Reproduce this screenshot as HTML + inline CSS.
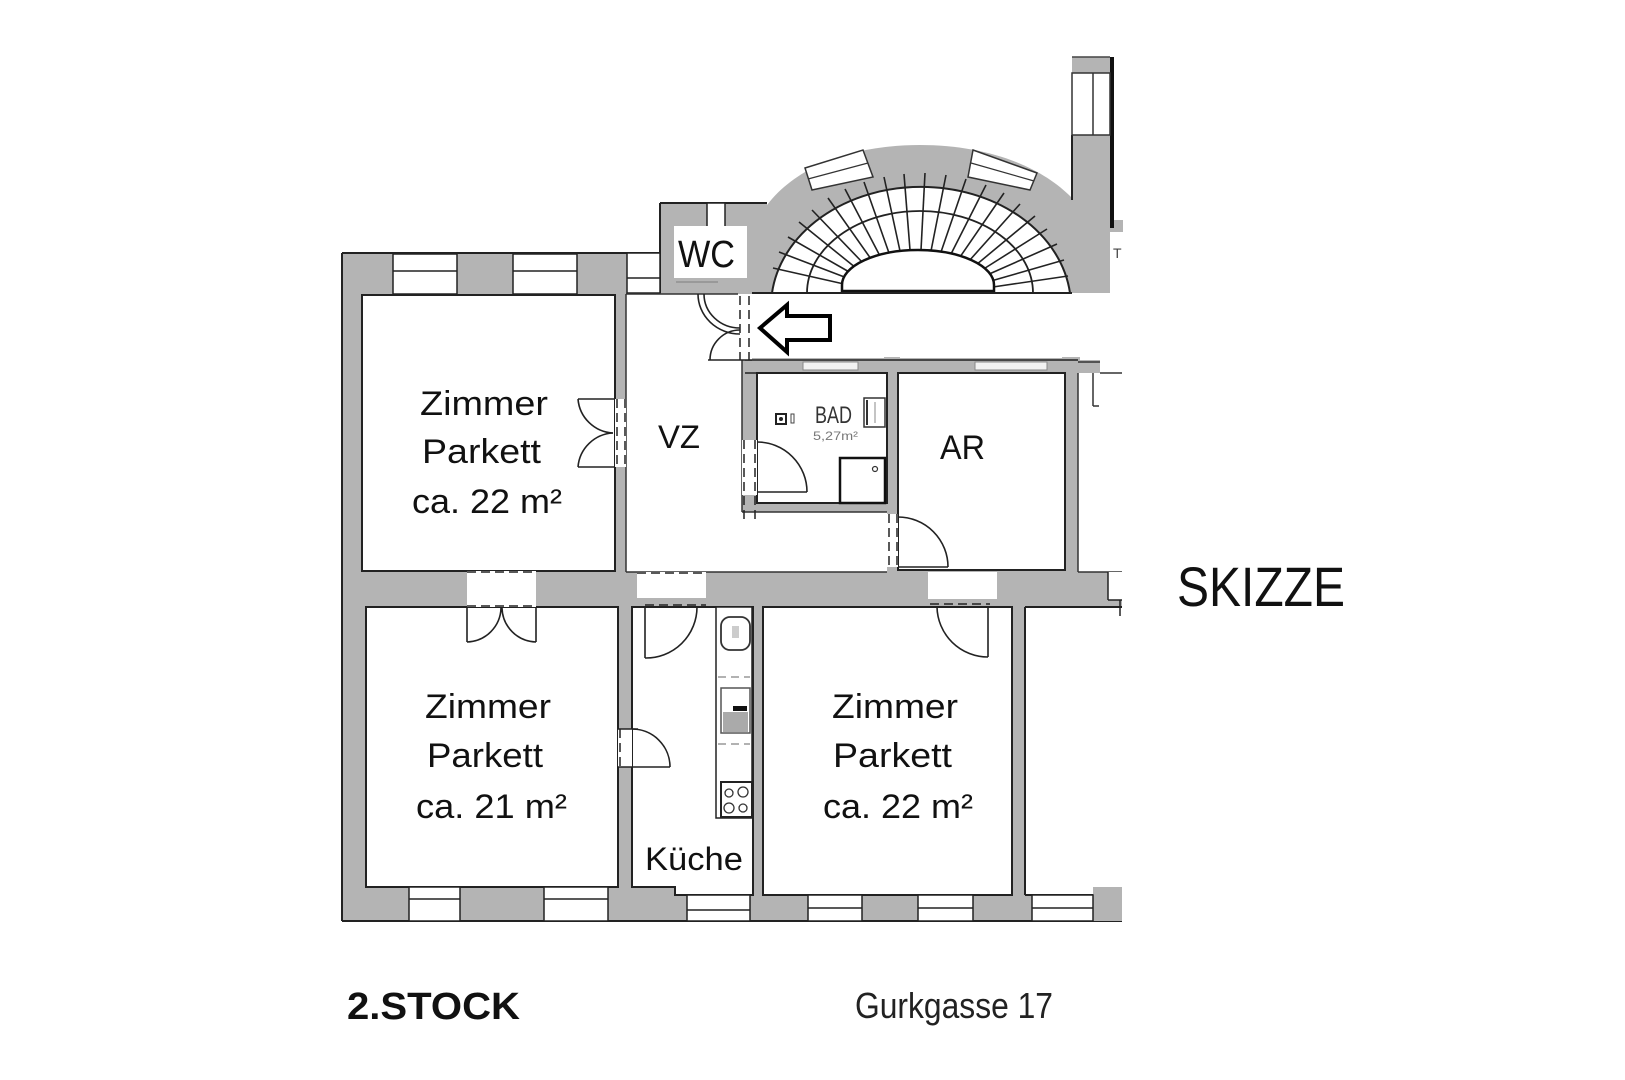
<!DOCTYPE html>
<html>
<head>
<meta charset="utf-8">
<style>
html,body{margin:0;padding:0;background:#fff;}
svg{display:block;}
text{font-family:"Liberation Sans",sans-serif;fill:#111;}
</style>
</head>
<body>
<svg width="1625" height="1080" viewBox="0 0 1625 1080" xmlns="http://www.w3.org/2000/svg">
<rect x="0" y="0" width="1625" height="1080" fill="#fff"/>

<!-- ===== gray wall masses ===== -->
<g fill="#b4b4b4">
  <rect x="342" y="253" width="410" height="319"/>
  <rect x="342" y="572" width="780" height="349"/>
  <rect x="660" y="203" width="107" height="90"/>
  <rect x="745" y="358" width="333" height="214"/>
  <rect x="745" y="360" width="355" height="13"/>
  <rect x="884" y="354" width="16" height="10"/>
  <rect x="1062" y="354" width="18" height="10"/>
  <path d="M767,293 L767,205 C800,162 860,145 920,145 C985,145 1040,165 1072,198 L1072,293 Z"/>
  <rect x="1072" y="57" width="38" height="236"/>
  <rect x="1110" y="220" width="13" height="12"/>
</g>

<!-- outer outline -->
<g stroke="#222" stroke-width="2" fill="none">
  <line x1="342" y1="253" x2="342" y2="921"/>
  <line x1="342" y1="253" x2="660" y2="253"/>
  <line x1="342" y1="921" x2="1122" y2="921"/>
  <line x1="660" y1="203" x2="660" y2="293"/>
  <line x1="660" y1="203" x2="767" y2="203"/>
  <line x1="1072" y1="135" x2="1072" y2="200"/>
</g>
<line x1="1112" y1="57" x2="1112" y2="228" stroke="#111" stroke-width="4"/>
<line x1="1072" y1="57" x2="1110" y2="57" stroke="#444" stroke-width="1.5"/>

<!-- column window -->
<rect x="1072" y="73" width="38" height="62" fill="#fff" stroke="#333" stroke-width="1.5"/>
<line x1="1093" y1="73" x2="1093" y2="135" stroke="#333" stroke-width="1.5"/>

<!-- ===== staircase ===== -->
<path d="M772,293 A150,120 0 0 1 1070,293 Z" fill="#fff" stroke="#222" stroke-width="2"/>
<!-- windows in stair wall -->
<polygon points="805,168 863,150 873,177 812,190" fill="#fff" stroke="#333" stroke-width="1.5"/>
<line x1="808" y1="179" x2="868" y2="163" stroke="#333" stroke-width="1.2"/>
<polygon points="973,150 1037,173 1030,190 968,177" fill="#fff" stroke="#333" stroke-width="1.5"/>
<line x1="971" y1="163" x2="1034" y2="181" stroke="#333" stroke-width="1.2"/>
<!-- middle stringer -->
<path d="M807,293 A113,82 0 0 1 1033,293" fill="none" stroke="#222" stroke-width="1.8"/>
<!-- step lines -->
<g stroke="#222" stroke-width="1.6">
  <line x1="993" y1="287" x2="1068" y2="276"/>
  <line x1="991" y1="281" x2="1064" y2="260"/>
  <line x1="987" y1="275" x2="1057" y2="244"/>
  <line x1="982" y1="270" x2="1047" y2="229"/>
  <line x1="976" y1="265" x2="1035" y2="216"/>
  <line x1="969" y1="261" x2="1020" y2="204"/>
  <line x1="960" y1="257" x2="1004" y2="193"/>
  <line x1="951" y1="254" x2="986" y2="185"/>
  <line x1="941" y1="252" x2="966" y2="179"/>
  <line x1="931" y1="251" x2="946" y2="175"/>
  <line x1="921" y1="250" x2="925" y2="173"/>
  <line x1="910" y1="250" x2="904" y2="174"/>
  <line x1="900" y1="251" x2="884" y2="177"/>
  <line x1="889" y1="253" x2="864" y2="182"/>
  <line x1="880" y1="256" x2="845" y2="189"/>
  <line x1="871" y1="259" x2="828" y2="198"/>
  <line x1="863" y1="263" x2="812" y2="210"/>
  <line x1="856" y1="268" x2="799" y2="222"/>
  <line x1="851" y1="273" x2="788" y2="237"/>
  <line x1="847" y1="278" x2="779" y2="252"/>
  <line x1="844" y1="284" x2="773" y2="268"/>
</g>
<!-- well -->
<path d="M842,291 L842,285 A76,35 0 0 1 994,285 L994,291 Z" fill="#fff" stroke="#111" stroke-width="2.5"/>
<line x1="752" y1="293" x2="1072" y2="293" stroke="#222" stroke-width="2"/>

<!-- WC block -->
<rect x="707" y="203" width="18" height="24" fill="#fff" stroke="#222" stroke-width="1.5"/>
<rect x="674" y="226" width="73" height="52" fill="#fff"/>
<text x="678" y="267" font-size="38" textLength="57" lengthAdjust="spacingAndGlyphs">WC</text>
<line x1="676" y1="282" x2="718" y2="282" stroke="#999" stroke-width="2"/>

<!-- window left of WC -->
<rect x="627" y="253" width="33" height="40" fill="#fff" stroke="#222" stroke-width="1.5"/>
<line x1="627" y1="278" x2="660" y2="278" stroke="#222" stroke-width="1.5"/>

<!-- top wall windows -->
<g fill="#fff" stroke="#222" stroke-width="1.5">
  <rect x="393" y="254" width="64" height="40"/>
  <rect x="513" y="254" width="64" height="40"/>
</g>
<g stroke="#222" stroke-width="1.5">
  <line x1="393" y1="271" x2="457" y2="271"/>
  <line x1="513" y1="271" x2="577" y2="271"/>
</g>

<!-- ===== rooms (white) ===== -->
<g fill="#fff" stroke="#222" stroke-width="2">
  <rect x="362" y="295" width="253" height="276"/>
  <rect x="366" y="607" width="252" height="280"/>
  <polygon points="632,607 753,607 753,895 675,895 675,887 632,887"/>
  <rect x="763" y="607" width="249" height="288"/>
  <rect x="757" y="373" width="130" height="130"/>
  <rect x="898" y="373" width="167" height="197"/>
</g>
<rect x="1025" y="607" width="97" height="288" fill="#fff"/>
<g stroke="#222" stroke-width="2">
  <line x1="1025" y1="607" x2="1025" y2="895"/>
  <line x1="1025" y1="607" x2="1122" y2="607"/>
  <line x1="1025" y1="895" x2="1093" y2="895"/>
</g>
<rect x="1093" y="887" width="29" height="34" fill="#b4b4b4"/>
<!-- VZ -->
<rect x="626" y="294" width="116" height="278" fill="#fff"/>
<rect x="740" y="512" width="147" height="60" fill="#fff"/>
<g stroke="#333" stroke-width="1.5">
  <line x1="626" y1="294" x2="626" y2="572"/>
  <line x1="626" y1="294" x2="738" y2="294"/>
  <line x1="626" y1="572" x2="887" y2="572"/>
  <line x1="742" y1="360" x2="742" y2="512"/>
  <line x1="742" y1="512" x2="887" y2="512"/>
</g>
<!-- landing / right area -->
<rect x="752" y="295" width="370" height="62" fill="#fff"/>
<rect x="1079" y="373" width="43" height="199" fill="#fff"/>
<rect x="1100" y="360" width="22" height="13" fill="#fff"/>
<g stroke="#333" stroke-width="1.5">
  <line x1="1078" y1="373" x2="1078" y2="572"/>
  <line x1="1078" y1="572" x2="1122" y2="572"/>
  <line x1="1093" y1="373" x2="1093" y2="406"/>
  <line x1="1093" y1="406" x2="1099" y2="406"/>
  <line x1="1078" y1="362" x2="1100" y2="362"/>
  <line x1="1100" y1="373" x2="1122" y2="373"/>
</g>
<rect x="1108" y="572" width="14" height="28" fill="#fff"/>
<line x1="1108" y1="572" x2="1108" y2="600" stroke="#222" stroke-width="1.5"/>
<line x1="1108" y1="600" x2="1122" y2="600" stroke="#222" stroke-width="1.5"/>
<line x1="1120" y1="600" x2="1120" y2="616" stroke="#222" stroke-width="1.5"/>

<!-- BAD/AR top wall windows -->
<g fill="#f2f2f2" stroke="#888" stroke-width="1">
  <rect x="803" y="362" width="55" height="8"/>
  <rect x="975" y="362" width="72" height="8"/>
</g>
<g stroke="#222" stroke-width="1.5">
  <line x1="745" y1="360" x2="1078" y2="360"/>
  <line x1="745" y1="373" x2="757" y2="373"/>
</g>

<!-- bottom windows -->
<g fill="#fff" stroke="#222" stroke-width="1.5">
  <rect x="409" y="887" width="51" height="34"/>
  <rect x="544" y="887" width="64" height="34"/>
  <rect x="687" y="895" width="63" height="26"/>
  <rect x="808" y="895" width="54" height="26"/>
  <rect x="918" y="895" width="55" height="26"/>
  <rect x="1032" y="895" width="61" height="26"/>
</g>
<g stroke="#222" stroke-width="1.5">
  <line x1="409" y1="899" x2="460" y2="899"/>
  <line x1="544" y1="899" x2="608" y2="899"/>
  <line x1="687" y1="910" x2="750" y2="910"/>
  <line x1="808" y1="908" x2="862" y2="908"/>
  <line x1="918" y1="908" x2="973" y2="908"/>
  <line x1="1032" y1="908" x2="1093" y2="908"/>
</g>

<!-- ===== doors ===== -->
<g fill="#fff">
  <rect x="615" y="399" width="11" height="68"/>
  <rect x="467" y="571" width="69" height="36"/>
  <rect x="637" y="572" width="69" height="26"/>
  <rect x="928" y="572" width="69" height="27"/>
  <rect x="887" y="514" width="11" height="53"/>
  <rect x="742" y="440" width="15" height="55"/>
  <rect x="618" y="729" width="14" height="38"/>
  <rect x="738" y="294" width="14" height="66"/>
</g>
<g stroke="#222" stroke-width="1.5" stroke-dasharray="9 5" fill="none">
  <line x1="467" y1="572" x2="536" y2="572"/>
  <line x1="467" y1="606" x2="536" y2="606"/>
  <line x1="645" y1="605" x2="706" y2="605"/>
  <line x1="637" y1="573" x2="706" y2="573"/>
  <line x1="930" y1="604" x2="990" y2="604"/>
  <line x1="898" y1="570" x2="1065" y2="570"/>
  <line x1="617" y1="399" x2="617" y2="467"/>
  <line x1="625" y1="399" x2="625" y2="467"/>
  <line x1="889" y1="514" x2="889" y2="567"/>
  <line x1="897" y1="514" x2="897" y2="567"/>
  <line x1="744" y1="440" x2="744" y2="520"/>
  <line x1="755" y1="440" x2="755" y2="520"/>
  <line x1="620" y1="729" x2="620" y2="767"/>
  <line x1="740" y1="296" x2="740" y2="360"/>
  <line x1="749" y1="296" x2="749" y2="360"/>
</g>
<g stroke="#222" stroke-width="1.6" fill="none">
  <!-- Zimmer1 double door -->
  <line x1="615" y1="399" x2="578" y2="399"/>
  <line x1="615" y1="467" x2="578" y2="467"/>
  <path d="M578,399 A37,37 0 0 0 613,433"/>
  <path d="M578,467 A37,37 0 0 1 613,433"/>
  <!-- Zimmer1-Zimmer2 double door -->
  <line x1="467" y1="607" x2="467" y2="642"/>
  <line x1="536" y1="607" x2="536" y2="642"/>
  <path d="M467,642 A35,35 0 0 0 501,608"/>
  <path d="M536,642 A35,35 0 0 1 502,608"/>
  <!-- kitchen door top -->
  <line x1="645" y1="607" x2="645" y2="658"/>
  <path d="M645,658 A51,51 0 0 0 697,607"/>
  <!-- Zimmer3 door -->
  <line x1="988" y1="607" x2="988" y2="657"/>
  <path d="M988,657 A51,51 0 0 1 937,607"/>
  <!-- AR door -->
  <line x1="898" y1="567" x2="948" y2="567"/>
  <path d="M948,567 A50,50 0 0 0 898,517"/>
  <!-- BAD door -->
  <line x1="757" y1="492" x2="807" y2="492"/>
  <path d="M807,492 A50,50 0 0 0 757,442"/>
  <!-- Zimmer2-Küche door -->
  <line x1="618" y1="767" x2="670" y2="767"/>
  <line x1="618" y1="729" x2="638" y2="729"/>
  <path d="M670,767 A38,38 0 0 0 632,729"/>
  <!-- WC / entrance door -->
  <path d="M698,294 A42,40 0 0 0 740,334"/>
  <path d="M704,294 A36,34 0 0 0 740,328"/>
  <path d="M740,330 A30,30 0 0 0 710,360"/>
  <line x1="708" y1="360" x2="752" y2="360"/>
</g>

<!-- entrance arrow -->
<polygon points="760,328 787,305 787,316 830,316 830,340 787,340 787,352" fill="#fff" stroke="#000" stroke-width="4" stroke-linejoin="miter"/>

<!-- ===== kitchen counter ===== -->
<rect x="716" y="607" width="36" height="211" fill="#fff" stroke="#222" stroke-width="1.5"/>
<rect x="721" y="617" width="29" height="33" rx="9" fill="#fff" stroke="#333" stroke-width="1.8"/>
<rect x="732" y="626" width="7" height="12" fill="#ccc"/>
<g stroke="#999" stroke-width="1.5" stroke-dasharray="8 5">
  <line x1="718" y1="677" x2="750" y2="677"/>
  <line x1="718" y1="744" x2="750" y2="744"/>
</g>
<rect x="721" y="688" width="29" height="45" fill="#fff" stroke="#555" stroke-width="1.5"/>
<rect x="723" y="712" width="25" height="20" fill="#aaa"/>
<rect x="733" y="706" width="14" height="5" fill="#111"/>
<rect x="721" y="782" width="31" height="35" fill="#fff" stroke="#222" stroke-width="2"/>
<g fill="none" stroke="#333" stroke-width="1.3">
  <circle cx="729" cy="793" r="4"/>
  <circle cx="743" cy="792" r="5"/>
  <circle cx="729" cy="808" r="5"/>
  <circle cx="743" cy="808" r="4"/>
</g>

<!-- ===== BAD fixtures ===== -->
<rect x="776" y="414" width="10" height="10" fill="#fff" stroke="#222" stroke-width="2"/>
<circle cx="781" cy="419" r="2" fill="#222"/>
<rect x="791" y="414" width="3" height="9" fill="none" stroke="#444" stroke-width="1"/>
<rect x="864" y="398" width="21" height="29" fill="#fff" stroke="#333" stroke-width="1.5"/>
<line x1="867" y1="400" x2="867" y2="425" stroke="#333" stroke-width="2"/>
<line x1="875" y1="402" x2="875" y2="423" stroke="#888" stroke-width="1"/>
<rect x="840" y="458" width="45" height="45" fill="#fff" stroke="#111" stroke-width="2.5"/>
<circle cx="875" cy="469" r="2.5" fill="none" stroke="#333" stroke-width="1.2"/>
<text x="815" y="423" font-size="24" fill="#333" style="fill:#333" textLength="37" lengthAdjust="spacingAndGlyphs">BAD</text>
<text x="813" y="440" font-size="12" style="fill:#777" textLength="45" lengthAdjust="spacingAndGlyphs">5,27m²</text>

<!-- small T -->
<text x="1113" y="258" font-size="14" style="fill:#444">T</text>

<!-- ===== labels ===== -->
<g font-size="34">
  <text x="420" y="415" textLength="128" lengthAdjust="spacingAndGlyphs">Zimmer</text>
  <text x="422" y="463" textLength="119" lengthAdjust="spacingAndGlyphs">Parkett</text>
  <text x="412" y="513" textLength="150" lengthAdjust="spacingAndGlyphs">ca. 22 m²</text>

  <text x="425" y="718" textLength="126" lengthAdjust="spacingAndGlyphs">Zimmer</text>
  <text x="427" y="767" textLength="116" lengthAdjust="spacingAndGlyphs">Parkett</text>
  <text x="416" y="818" textLength="151" lengthAdjust="spacingAndGlyphs">ca. 21 m²</text>

  <text x="832" y="718" textLength="126" lengthAdjust="spacingAndGlyphs">Zimmer</text>
  <text x="833" y="767" textLength="119" lengthAdjust="spacingAndGlyphs">Parkett</text>
  <text x="823" y="818" textLength="150" lengthAdjust="spacingAndGlyphs">ca. 22 m²</text>

  <text x="940" y="459" textLength="45" lengthAdjust="spacingAndGlyphs">AR</text>
</g>
<text x="658" y="448" font-size="32" textLength="42" lengthAdjust="spacingAndGlyphs">VZ</text>
<text x="645" y="870" font-size="32" textLength="98" lengthAdjust="spacingAndGlyphs">Küche</text>

<text x="1177" y="606" font-size="56" textLength="168" lengthAdjust="spacingAndGlyphs">SKIZZE</text>

<text x="347" y="1019" font-size="38" font-weight="bold" textLength="173" lengthAdjust="spacingAndGlyphs">2.STOCK</text>
<text x="855" y="1018" font-size="36" style="fill:#222" textLength="198" lengthAdjust="spacingAndGlyphs">Gurkgasse 17</text>
</svg>
</body>
</html>
